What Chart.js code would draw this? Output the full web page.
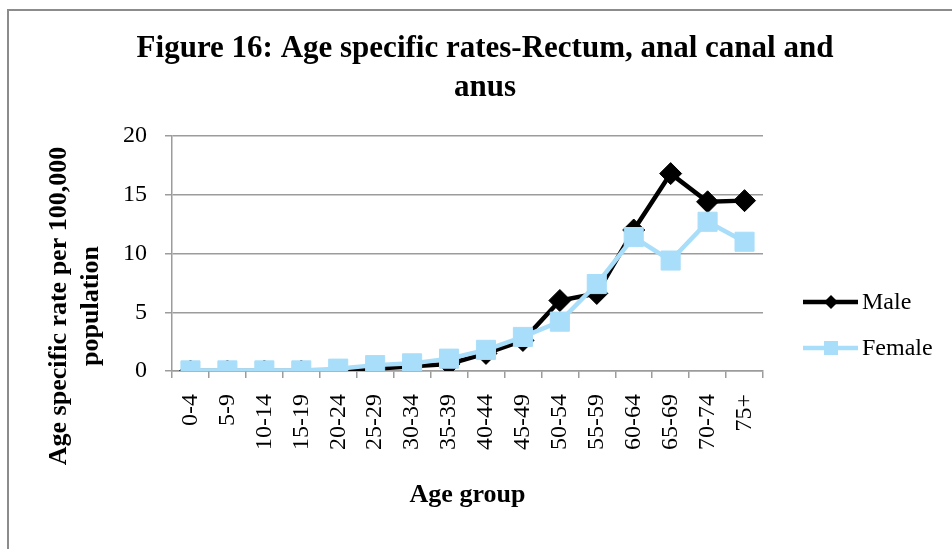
<!DOCTYPE html>
<html>
<head>
<meta charset="utf-8">
<script src="https://cdn.jsdelivr.net/npm/chart.js@4.4.1/dist/chart.umd.min.js"></script>
<style>
  html, body { margin: 0; padding: 0; background: #fff; overflow: hidden; }
  #frame { position: absolute; left: 7px; top: 9px; width: 1000px; height: 600px; border: 2px solid #8c8c8c; }
  #wrap { position: absolute; left: 0; top: 0; width: 952px; height: 549px; }
</style>
</head>
<body>
<div id="frame"></div>
<div id="wrap"><canvas id="chartCanvas" width="952" height="549"></canvas></div>
<script>
const FONT = '"Liberation Serif", "Times New Roman", serif';

// data
const ageGroups = ["0-4", "5-9", "10-14", "15-19", "20-24", "25-29", "30-34", "35-39",
  "40-44", "45-49", "50-54", "55-59", "60-64", "65-69", "70-74", "75+"];
const maleRates = [0, 0, 0, 0, 0.05, 0.2, 0.4, 0.6, 1.5, 2.6, 6.0, 6.6, 12.0, 16.8, 14.4, 14.5];
const femaleRates = [0.05, 0.05, 0.05, 0.05, 0.2, 0.5, 0.65, 1.05, 1.8, 2.9, 4.2, 7.4, 11.4, 9.4, 12.7, 11.0];
const yTicks = [0, 5, 10, 15, 20];

const titleLines = ["Figure 16: Age specific rates-Rectum, anal canal and", "anus"];
const yTitleLines = ["Age specific rate per 100,000", "population"];
const xTitle = "Age group";

const GRID = "#9c9c9c";

// y title + legend (line with marker) drawn on the canvas
const sideText = {
  id: "sideText",
  afterDraw(chart) {
    const c = chart.ctx;
    c.save();
    c.fillStyle = "#000";
    c.font = "bold 26px " + FONT;
    c.textAlign = "center";
    c.textBaseline = "alphabetic";
    yTitleLines.forEach((t, i) => {
      c.save();
      c.translate(66 + i * 31.5, 306);
      c.rotate(-Math.PI / 2);
      c.fillText(t, 0, 0);
      c.restore();
    });

    const rows = [302, 348];
    chart.data.datasets.forEach((ds, i) => {
      const y = rows[i];
      c.strokeStyle = ds.borderColor;
      c.lineWidth = ds.borderWidth;
      c.beginPath();
      c.moveTo(803, y);
      c.lineTo(858, y);
      c.stroke();
      c.fillStyle = ds.borderColor;
      c.beginPath();
      if (ds.pointStyle === "rectRot") {
        c.moveTo(831, y - 7);
        c.lineTo(838, y);
        c.lineTo(831, y + 7);
        c.lineTo(824, y);
        c.closePath();
      } else {
        c.rect(824, y - 7, 14, 14);
      }
      c.fill();
      c.fillStyle = "#000";
      c.font = "24px " + FONT;
      c.textAlign = "left";
      c.textBaseline = "middle";
      c.fillText(ds.label, 862, y + 1);
    });
    c.restore();
  }
};

const ctx = document.getElementById("chartCanvas").getContext("2d");

new Chart(ctx, {
  type: "line",
  data: {
    labels: ageGroups,
    datasets: [
      {
        label: "Male",
        data: maleRates,
        borderColor: "#000000",
        backgroundColor: "#000000",
        borderWidth: 4.5,
        pointStyle: "rectRot",
        pointRadius: 11,
        pointBorderWidth: 1,
        tension: 0,
        order: 2
      },
      {
        label: "Female",
        data: femaleRates,
        borderColor: "#a9defa",
        backgroundColor: "#a9defa",
        borderWidth: 4.5,
        pointStyle: "rect",
        pointRadius: 13.5,
        pointBorderWidth: 1,
        tension: 0,
        order: 1
      }
    ]
  },
  options: {
    responsive: false,
    animation: false,
    layout: { padding: { left: 18, right: 0, top: 0, bottom: 0 } },
    plugins: {
      legend: { display: false },
      tooltip: { enabled: false },
      title: {
        display: true,
        text: titleLines,
        color: "#000",
        font: { family: FONT, size: 31, weight: "bold", lineHeight: "39px" },
        padding: { top: 29.5, bottom: 28.5 }
      }
    },
    scales: {
      x: {
        type: "category",
        offset: true,
        grid: { offset: true, drawOnChartArea: false, drawTicks: true, tickLength: 7, color: GRID, lineWidth: 1.5 },
        border: { color: GRID, width: 1.5 },
        ticks: {
          autoSkip: false, minRotation: 90, maxRotation: 90, padding: 16,
          color: "#000", font: { family: FONT, size: 24 }
        },
        title: {
          display: true, text: xTitle, color: "#000",
          font: { family: FONT, size: 26, weight: "bold" },
          padding: { top: 0, bottom: 38 }
        },
        afterFit(s) { s.height = 178; }
      },
      y: {
        min: 0, max: 20,
        afterBuildTicks(s) { s.ticks = yTicks.map(v => ({ value: v })); },
        grid: { color: GRID, lineWidth: 1.5, tickLength: 7 },
        border: { color: GRID, width: 1.5 },
        ticks: { padding: 18, color: "#000", font: { family: FONT, size: 24 } },
        afterFit(s) { s.width = 154; }
      },
      yR: {
        type: "linear",
        position: "right",
        grid: { display: false },
        border: { display: false },
        ticks: { display: false },
        afterFit(s) { s.width = 189; }
      }
    }
  },
  plugins: [sideText]
});
</script>
</body>
</html>
